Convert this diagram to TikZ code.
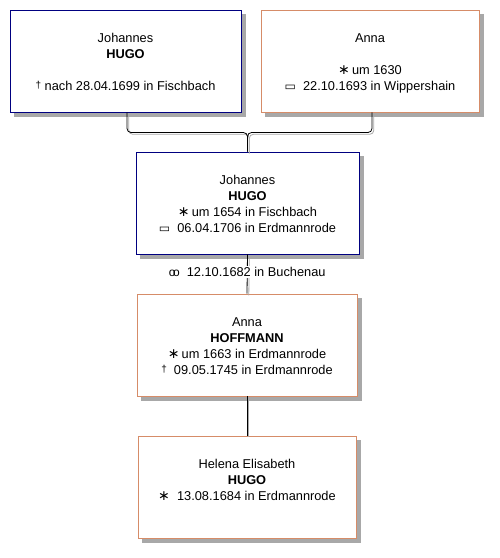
\documentclass[tikz,border=0pt]{standalone}
\usepackage{fontspec}
\setmainfont{Liberation Sans}
\newfontfamily\dejavu{DejaVu Sans}
\usetikzlibrary{calc,backgrounds}
\definecolor{mblue}{RGB}{0,0,128}
\definecolor{forange}{RGB}{214,140,104}
\definecolor{shad}{RGB}{168,168,168}
\newcommand{\bsym}{{\dejavu\fontsize{14}{14}\selectfont ∗}}
\newcommand{\dsym}{\raisebox{1.5pt}{\fontsize{10}{10}\selectfont †}}
\newcommand{\gsym}{{\dejavu\fontsize{12}{12}\selectfont ▭}}
\newcommand{\msym}{{\fontsize{12}{12}\selectfont o\kern-2.6pt o}}
\newcommand{\topstrut}{\rule{0pt}{15.2pt}}
\begin{document}
\begin{tikzpicture}[x=1pt,y=-1pt,
  person/.style={draw, line width=0.95pt, fill=white, align=center, inner sep=0pt,
    font=\fontsize{12.8}{16}\selectfont},
  male/.style={person, draw=mblue},
  female/.style={person, draw=forange},
  shadowbox/.style={fill=shad},
  conn/.style={line width=0.8pt, preaction={draw=shad, line width=0.8pt, transform canvas={shift={(1.8pt,-1.8pt)}}}},
  mlabel/.style={fill=white, inner sep=1pt, font=\fontsize{12.8}{16}\selectfont}]
\useasboundingbox (0,0) rectangle (499,558);
\node[male, minimum width=231pt, minimum height=102pt] (j1) at (125.5,61)
  {\topstrut Johannes\\\strut\textbf{HUGO}\\\strut\\\strut\dsym\ nach 28.04.1699 in Fischbach};
\node[female, minimum width=218pt, minimum height=102pt] (a1) at (370,61)
  {\topstrut Anna\\\strut\\\strut\bsym\,um 1630\\\strut\gsym\ \ 22.10.1693 in Wippershain};
\node[male, minimum width=223pt, minimum height=102pt] (j2) at (247.5,203)
  {\topstrut Johannes\\\strut\textbf{HUGO}\\\strut\bsym\,um 1654 in Fischbach\\\strut\gsym\ \ 06.04.1706 in Erdmannrode};
\node[female, minimum width=220pt, minimum height=102pt] (a2) at (247,345)
  {\topstrut Anna\\\strut\textbf{HOFFMANN}\\\strut\bsym\,um 1663 in Erdmannrode\\\strut\dsym\ \ 09.05.1745 in Erdmannrode};
\node[female, minimum width=218pt, minimum height=102pt] (h) at (247,487)
  {\topstrut Helena Elisabeth\\\strut\textbf{HUGO}\\\strut\bsym\ \ 13.08.1684 in Erdmannrode\\\strut};
\begin{scope}[on background layer]
  \foreach \n in {j1,a1,j2,a2,h}
    \fill[shadowbox] ($(\n.south west)+(4,1)$) rectangle ($(\n.north east)+(4.5,4)$);
  \foreach \n in {j1,a1,j2,a2,h}
    \fill[shadowbox] ($(\n.south west)+(4,4.5)$) rectangle ($(\n.south east)+(4.5,0)$);
\end{scope}
\coordinate (jn) at ($(j2.north)+(0,-19)$);
\draw[conn, rounded corners=4pt] ([xshift=1.5pt]j1.south) |- (jn) -- (j2.north);
\draw[conn, rounded corners=4pt] ([xshift=2pt]a1.south) |- (jn) -- (j2.north);
\draw[conn] (j2.south) -- node[mlabel, pos=0.45] (m) {\msym\ \ 12.10.1682 in Buchenau} (a2.north);
\draw[conn] (a2.south) -- (h.north);
\end{tikzpicture}
\end{document}
